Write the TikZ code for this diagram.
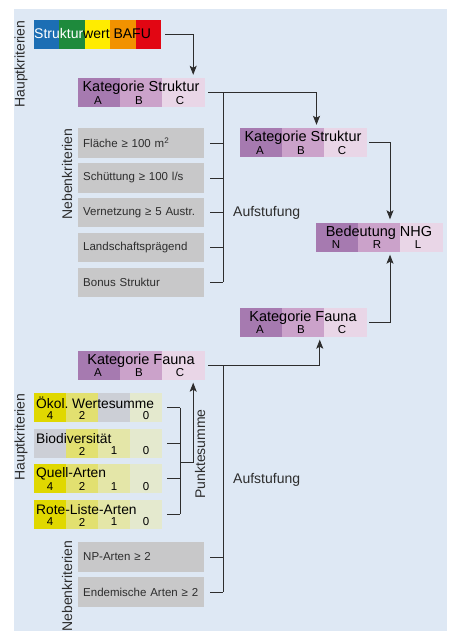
\documentclass[tikz,border=0pt]{standalone}
\usepackage{fontspec}
\setmainfont{Liberation Sans}
\usetikzlibrary{arrows.meta,calc}
\frenchspacing
\definecolor{bgblue}{RGB}{222,232,244}
\definecolor{catA}{RGB}{166,122,176}
\definecolor{catB}{RGB}{203,162,202}
\definecolor{catC}{RGB}{233,214,231}
\definecolor{nebengray}{RGB}{200,200,201}
\definecolor{yA}{RGB}{224,216,0}
\definecolor{yB}{RGB}{226,224,112}
\definecolor{yC}{RGB}{228,230,168}
\definecolor{yD}{RGB}{228,233,206}
\definecolor{yGray}{RGB}{204,207,214}
\definecolor{bafuBlue}{RGB}{28,110,180}
\definecolor{bafuGreen}{RGB}{30,138,60}
\definecolor{bafuYellow}{RGB}{255,236,0}
\definecolor{bafuOrange}{RGB}{242,146,0}
\definecolor{bafuRed}{RGB}{226,6,19}
\definecolor{inkgray}{RGB}{45,45,45}
\tikzstyle{line}=[draw=inkgray,line width=0.8pt]
\tikzstyle{arr}=[line,-{Stealth[length=9pt,width=7pt,inset=2pt]},shorten >=3pt]
\tikzstyle{catframe}=[inner sep=0pt,minimum width=126pt,minimum height=29pt]
\tikzstyle{cattitle}=[inner sep=0pt,font=\fontsize{14.5}{16}\selectfont,text=black]
\tikzstyle{rowtitle}=[inner sep=0pt,anchor=west,font=\fontsize{13.8}{16}\selectfont,text=black]
\tikzstyle{catletter}=[inner sep=0pt,font=\fontsize{11.5}{13}\selectfont,text=black]
\tikzstyle{nebenbox}=[fill=nebengray,anchor=north west,text width=116pt,align=left,inner xsep=5pt,
  inner ysep=0pt,minimum height=29.5pt,font=\fontsize{11.5}{13}\selectfont,text=inkgray]
\tikzstyle{sidelabel}=[rotate=90,inner sep=0pt,font=\fontsize{14}{16}\selectfont,text=inkgray]
\newcommand{\drawcategory}[7]{
% #1 name, #2/#3 upper left corner, #4 title, #5-#7 classes
\fill[catA] (#2,#3) rectangle ++(42,29);
\fill[catB] (#2+42,#3) rectangle ++(42,29);
\fill[catC] (#2+84,#3) rectangle ++(42.5,29);
\node[catframe] (#1) at (#2+63,#3+14.5) {};
\node[cattitle] at (#2+63,#3+10) {#4};
\node[catletter] at (#2+20,#3+22.5) {#5};
\node[catletter] at (#2+61,#3+22.5) {#6};
\node[catletter] at (#2+102,#3+22.5) {#7};
}
\newcommand{\drawpoints}[4]{
% #1 name, #2 top edge, #3 title, #4 cells colour/points
\foreach \c/\v [count=\i] in {#4} {
  \fill[\c] (2+32*\i,#2) rectangle ++(32,29);
  \node[catletter] at (18+32*\i,#2+22.5) {\v};
}
\node[catframe,minimum width=128pt] (#1) at (98,#2+14.5) {};
\node[rowtitle] at (36,#2+10) {#3};
}

\begin{document}
\begin{tikzpicture}[x=1pt,y=-1pt]
\useasboundingbox (0,0) rectangle (454,631);
\fill[bgblue] (14,9) rectangle (447,631);

% Struktur
\foreach \c [count=\i] in {bafuBlue,bafuGreen,bafuYellow,bafuOrange,bafuRed}
  \fill[\c] (8.6+25.4*\i,20) rectangle ++(25.4,29);
\node[catframe,minimum width=127pt] (bafu) at (97.5,34.5) {};
\node[cattitle,anchor=west,font=\fontsize{14}{16}\selectfont] at (34,33) {\textcolor{white}{Struktur}wert BAFU};

\drawcategory{kstruk}{78}{78}{Kategorie Struktur}{A}{B}{C}
\drawcategory{kstrukB}{240}{128}{Kategorie Struktur}{A}{B}{C}
\drawcategory{nhg}{316}{222.5}{Bedeutung NHG}{N}{R}{L}

\node[nebenbox] (flaeche) at (78,128) {Fläche ≥ 100 m\textsuperscript{2}};
\node[nebenbox] (schuettung) at (78,163) {Schüttung ≥ 100 l/s};
\node[nebenbox] (vernetzung) at (78,197.5) {Vernetzung ≥ 5 Austr.};
\node[nebenbox] (landschaft) at (78,232.5) {Landschaftsprägend};
\node[nebenbox] (bonus) at (78,267.5) {Bonus Struktur};

\node[sidelabel] at (21,64) {Hauptkriterien};
\node[sidelabel] at (67,174) {Nebenkriterien};
\node[cattitle,anchor=west,text=inkgray,font=\fontsize{14}{16}\selectfont] at (233,213) {Aufstufung};

\coordinate (strukbar) at (223,0);
\draw[arr,shorten <=4pt] (bafu.east) -| ([xshift=-11pt]kstruk.north east);
\draw[arr] ([xshift=4pt]kstruk.east) -| ([xshift=13.5pt]kstrukB.north);
\draw[line] (kstruk.east -| strukbar) -- (bonus.east -| strukbar);
\foreach \n in {flaeche,schuettung,vernetzung,landschaft,bonus}
  \draw[line] ([xshift=6pt]\n.east) -- (\n.east -| strukbar);
\draw[arr] ([xshift=3pt]kstrukB.east) -| ([xshift=11pt]nhg.north);

% Fauna
\drawcategory{kfauna}{78}{350.5}{Kategorie Fauna}{A}{B}{C}
\drawcategory{kfaunaB}{240}{307.5}{Kategorie Fauna}{A}{B}{C}

\drawpoints{oekol}{393}{Ökol. Wertesumme}{yA/4,yB/2,yGray/,yD/0}
\drawpoints{biodiv}{428.5}{Biodiversität}{yGray/,yB/2,yC/1,yD/0}
\drawpoints{quell}{464}{Quell-Arten}{yA/4,yB/2,yC/1,yD/0}
\drawpoints{roteliste}{499.5}{Rote-Liste-Arten}{yA/4,yB/2,yC/1,yD/0}

\node[nebenbox] (nparten) at (78,542) {NP-Arten ≥ 2};
\node[nebenbox] (endemisch) at (78,577) {Endemische Arten ≥ 2};

\node[sidelabel] at (21,437) {Hauptkriterien};
\node[sidelabel] at (67,586) {Nebenkriterien};
\node[sidelabel] at (200,454) {Punktesumme};
\node[cattitle,anchor=west,text=inkgray,font=\fontsize{14}{16}\selectfont] at (233,480) {Aufstufung};

\coordinate (punktbar) at (180,0);
\coordinate (punktsum) at (180,462);
\foreach \n in {oekol,biodiv,quell,roteliste}
  \draw[line] ([xshift=5pt]\n.east) -- (\n.east -| punktbar);
\draw[line] (oekol.east -| punktbar) -- (roteliste.east -| punktbar);
\draw[arr] (punktsum) -| ([xshift=-11pt]kfauna.south east);

\coordinate (faunabar) at (223,0);
\draw[arr] ([xshift=4pt]kfauna.east) -| ([xshift=16.75pt]kfaunaB.south);
\draw[line] (kfauna.east -| faunabar) -- (endemisch.east -| faunabar);
\foreach \n in {nparten,endemisch}
  \draw[line] ([xshift=6pt]\n.east) -- (\n.east -| faunabar);
\draw[arr] ([xshift=3pt]kfaunaB.east) -| ([xshift=11pt]nhg.south);
\end{tikzpicture}
\end{document}
